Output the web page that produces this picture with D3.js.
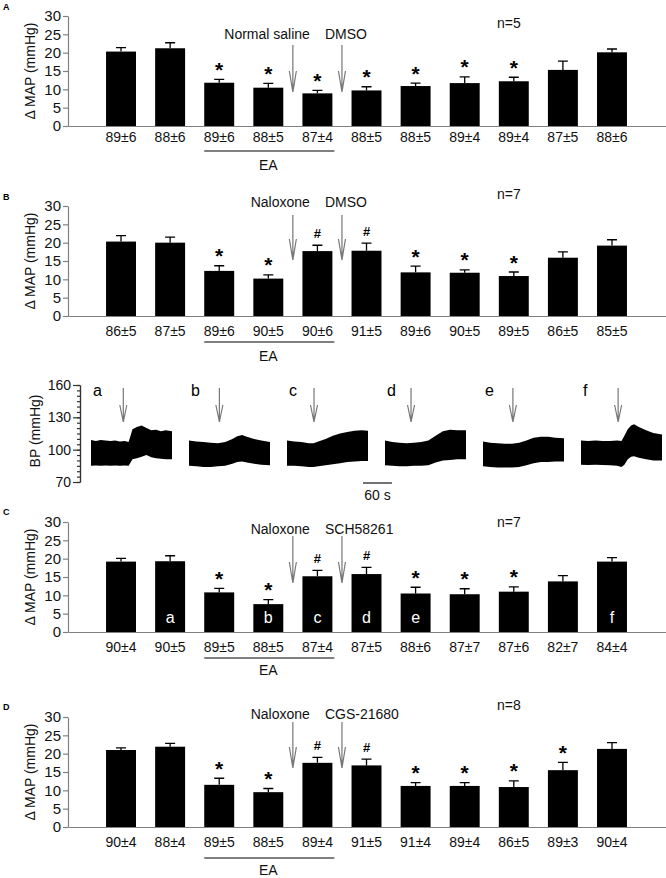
<!DOCTYPE html>
<html>
<head>
<meta charset="utf-8">
<script src="https://cdn.jsdelivr.net/npm/d3@7"></script>
<style>
  body { margin: 0; background: #fff; }
  svg { font-family: "Liberation Sans", Arial, sans-serif; display: block; }
  .axis path, .axis line { stroke: #808080; stroke-width: 1.2; }
  .axis text { fill: #111; font-size: 15px; }
  .bp-axis path, .bp-axis line { stroke: #333; stroke-width: 1.2; }
  .bp-axis text { fill: #111; font-size: 14px; }
  .lbl { fill: #111; font-size: 14px; }
</style>
</head>
<body>
<div id="chart"></div>
<script>
// ---- data ----
const labelsA = ['89±6', '88±6', '89±6', '88±5', '87±4', '88±5', '88±5', '89±4', '89±4', '87±5', '88±6']
const valuesA = [20.3, 21.2, 11.8, 10.45, 8.9, 9.7, 10.9, 11.7, 12.2, 15.3, 20.1]
const semA = [1.1, 1.5, 0.9, 1.15, 0.8, 1.0, 0.8, 1.7, 1.1, 2.4, 0.9]
const sigA = ['', '', '*', '*', '*', '*', '*', '*', '*', '', '']
const drugsA = ['Normal saline', 'DMSO']

const labelsB = ['86±5', '87±5', '89±6', '90±5', '90±6', '91±5', '89±6', '90±5', '89±5', '86±5', '85±5']
const valuesB = [20.3, 20.0, 12.3, 10.2, 17.7, 17.8, 11.9, 11.8, 10.9, 15.9, 19.2]
const semB = [1.6, 1.5, 1.4, 1.0, 1.6, 2.1, 1.7, 0.8, 1.1, 1.6, 1.6]
const sigB = ['', '', '*', '*', '#', '#', '*', '*', '*', '', '']
const drugsB = ['Naloxone', 'DMSO']

const labelsC = ['90±4', '90±5', '89±5', '88±5', '87±4', '87±5', '88±6', '87±7', '87±6', '82±7', '84±4']
const valuesC = [19.2, 19.3, 10.8, 7.6, 15.2, 15.8, 10.5, 10.3, 11.0, 13.8, 19.2]
const semC = [0.9, 1.5, 1.1, 1.25, 1.6, 1.8, 1.7, 1.5, 1.3, 1.6, 1.1]
const sigC = ['', '', '*', '*', '#', '#', '*', '*', '*', '', '']
const drugsC = ['Naloxone', 'SCH58261']
const inBarC = ['', 'a', '', 'b', 'c', 'd', 'e', '', '', '', 'f']

const labelsD = ['90±4', '88±4', '89±5', '88±5', '89±4', '91±5', '91±4', '89±4', '86±5', '89±3', '90±4']
const valuesD = [21.0, 21.9, 11.5, 9.5, 17.5, 16.8, 11.2, 11.2, 10.9, 15.5, 21.3]
const semD = [0.6, 0.9, 1.8, 1.0, 1.5, 1.7, 0.9, 0.9, 1.7, 2.1, 1.7]
const sigD = ['', '', '*', '*', '#', '#', '*', '*', '*', '*', '']
const drugsD = ['Naloxone', 'CGS-21680']

const panelLetters = ['A', 'B', 'C', 'D']
const nLabels = ['n=5', 'n=7', 'n=7', 'n=8']
const yTicks = [0, 5, 10, 15, 20, 25, 30]

// BP traces (upper / lower envelope, mmHg) vs time (s)
const traceNames = ['a', 'b', 'c', 'd', 'e', 'f']
const traceArrowTime = [67, 63, 56, 54, 62, 77]
const tTimeA = [0, 10, 20, 30, 40, 50, 60, 70, 78, 82, 86, 95, 105, 115, 125, 135, 145, 155, 168]
const tUpA = [109, 108, 109, 108.5, 108, 108.5, 107.5, 108, 107, 113, 119, 121, 122.5, 120, 118, 118.5, 117, 118, 117]
const tLoA = [85, 85.3, 85, 85.2, 85, 85.3, 85, 85.2, 85, 88, 91, 92, 93.5, 95, 93, 92, 91.5, 91, 91]
const tTimeB = [0, 15, 30, 45, 60, 75, 90, 100, 110, 120, 135, 150, 168]
const tUpB = [108.5, 107.5, 107, 106.5, 106, 107, 110, 112.5, 113.5, 112, 110, 108.5, 107]
const tLoB = [85, 84.5, 84, 84, 84.5, 85, 87, 88.5, 89, 88, 87, 86, 85.5]
const tTimeC = [0, 15, 30, 45, 55, 65, 80, 95, 110, 125, 140, 155, 168]
const tUpC = [108.5, 107.5, 107, 106, 106, 107.5, 110, 113, 115, 116.5, 117.5, 118, 117.5]
const tLoC = [85, 85, 84.5, 84, 84, 84.5, 85.5, 86.5, 87.5, 88.5, 89, 89.5, 89.5]
const tTimeD = [0, 15, 30, 45, 60, 75, 90, 105, 120, 135, 150, 168]
const tUpD = [108.5, 107, 106.5, 106, 106.5, 107, 108.5, 113, 117, 118.5, 118, 118]
const tLoD = [85.5, 85, 84.5, 84.5, 85, 85, 85.5, 88, 90, 90.5, 91, 91]
const tTimeE = [0, 15, 30, 45, 60, 75, 90, 105, 120, 135, 150, 168]
const tUpE = [107.5, 106.5, 106, 105.5, 105.5, 106.5, 108.5, 111, 112, 112, 111, 110.5]
const tLoE = [84.5, 84, 83.5, 83.5, 83.5, 84, 85.5, 87.5, 88.5, 88.5, 89, 89]
const tTimeF = [0, 15, 30, 45, 60, 75, 84, 90, 97, 104, 110, 120, 135, 150, 168]
const tUpF = [108.5, 108, 108.5, 108, 108, 108.5, 108, 113, 119, 122.5, 123.5, 121, 118, 115.5, 114]
const tLoF = [86, 85.8, 86, 85.8, 85.5, 85, 84, 86, 91, 93.5, 94, 92.5, 91, 90, 90]
const bpTicks = [70, 100, 130, 160]

// ---- layout ----
const W = 666, H = 878
const svg = d3.select('#chart').append('svg').attr('width', W).attr('height', H)

const panels = [
  { labels: labelsA, values: valuesA, sem: semA, sig: sigA, drugs: drugsA, inBar: null },
  { labels: labelsB, values: valuesB, sem: semB, sig: sigB, drugs: drugsB, inBar: null },
  { labels: labelsC, values: valuesC, sem: semC, sig: sigC, drugs: drugsC, inBar: inBarC },
  { labels: labelsD, values: valuesD, sem: semD, sig: sigD, drugs: drugsD, inBar: null },
]
const layout = [
  { top: 16, base: 126, letterY: 10, drugY: 39, arrowTop: 45, arrowTip: 92, nY: 28, labelY: 142, eaLine: 151, eaY: 170 },
  { top: 206, base: 316, letterY: 200, drugY: 207, arrowTop: 215, arrowTip: 260, nY: 199, labelY: 336, eaLine: 342, eaY: 361 },
  { top: 522, base: 632, letterY: 515, drugY: 534, arrowTop: 536, arrowTip: 583, nY: 527, labelY: 652, eaLine: 658, eaY: 675 },
  { top: 717, base: 827, letterY: 710, drugY: 719, arrowTop: 722, arrowTip: 768, nY: 710, labelY: 847, eaLine: 858, eaY: 875 },
]

const x = d3.scaleLinear().domain([-1.08, 11.1]).range([68, W])
const barW = x(0.61) - x(0)

function arrow(g, ax, y1, y2, head) {
  g.append('path')
    .attr('d', `M${ax},${y1}L${ax},${y2}M${ax - 3.5},${y2 - head}L${ax},${y2}L${ax + 3.5},${y2 - head}`)
    .attr('fill', 'none').attr('stroke', '#777').attr('stroke-width', 1.2)
}

panels.forEach((p, k) => {
  const L = layout[k]
  const g = svg.append('g')
  const y = d3.scaleLinear().domain([0, 30]).range([L.base, L.top])

  g.append('text').text(panelLetters[k]).attr('x', 3).attr('y', L.letterY)
    .attr('font-size', 9).attr('font-weight', 'bold')

  g.append('g').attr('class', 'axis').attr('transform', `translate(68,0)`)
    .call(d3.axisLeft(y).tickValues(yTicks).tickSize(5).tickSizeOuter(0).tickPadding(2))
  g.append('g').attr('class', 'axis').attr('transform', `translate(0,${L.base})`)
    .call(d3.axisBottom(x).tickValues([]).tickSizeOuter(0))

  g.append('text').attr('class', 'lbl').text('Δ MAP (mmHg)').attr('text-anchor', 'middle')
    .attr('transform', `translate(35,${(L.top + L.base) / 2}) rotate(-90)`)

  const idx = d3.range(p.values.length)
  g.selectAll('rect.bar').data(idx).join('rect').attr('class', 'bar')
    .attr('x', (i) => x(i) - barW / 2).attr('width', barW)
    .attr('y', (i) => y(p.values[i])).attr('height', (i) => y(0) - y(p.values[i]))
    .attr('fill', '#000')

  g.selectAll('path.err').data(idx).join('path').attr('class', 'err')
    .attr('d', (i) => {
      const cx = x(i), t = y(p.values[i] + p.sem[i])
      return `M${cx},${y(p.values[i])}V${t}M${cx - 5},${t}H${cx + 5}`
    })
    .attr('stroke', '#000').attr('stroke-width', 1.3).attr('fill', 'none')

  g.selectAll('text.sig').data(idx.filter((i) => p.sig[i])).join('text').attr('class', 'sig')
    .text((i) => p.sig[i]).attr('text-anchor', 'middle')
    .attr('x', (i) => x(i))
    .attr('y', (i) => y(p.values[i] + p.sem[i]) - (p.sig[i] === '#' ? 7 : 2.5))
    .attr('font-size', (i) => (p.sig[i] === '#' ? 13 : 21)).attr('font-weight', 'bold')

  g.selectAll('text.xl').data(idx).join('text').attr('class', 'xl lbl')
    .text((i) => p.labels[i]).attr('text-anchor', 'middle')
    .attr('x', (i) => x(i)).attr('y', L.labelY).attr('font-size', 13.5)

  if (p.inBar) {
    g.selectAll('text.inbar').data(idx.filter((i) => p.inBar[i])).join('text').attr('class', 'inbar')
      .text((i) => p.inBar[i]).attr('text-anchor', 'middle')
      .attr('x', (i) => x(i)).attr('y', L.base - 9)
      .attr('fill', '#fff').attr('font-size', 16)
  }

  // EA bracket under bars 3-5
  g.append('line').attr('x1', x(2) - barW / 2).attr('x2', x(4) + barW / 2 + 2)
    .attr('y1', L.eaLine).attr('y2', L.eaLine).attr('stroke', '#000').attr('stroke-width', 1)
  g.append('text').attr('class', 'lbl').text('EA').attr('text-anchor', 'middle')
    .attr('x', x(3)).attr('y', L.eaY)

  // drug arrows
  arrow(g, x(3.5), L.arrowTop, L.arrowTip, 21)
  arrow(g, x(4.5), L.arrowTop, L.arrowTip, 21)
  g.append('text').attr('class', 'lbl').text(p.drugs[0]).attr('text-anchor', 'end')
    .attr('x', x(3.5) + 17).attr('y', L.drugY)
  g.append('text').attr('class', 'lbl').text(p.drugs[1]).attr('text-anchor', 'start')
    .attr('x', x(4.5) - 17).attr('y', L.drugY)

  g.append('text').attr('class', 'lbl').text(nLabels[k]).attr('text-anchor', 'middle')
    .attr('x', x(7.9)).attr('y', L.nY)
})

// ---- BP traces ----
const traces = [
  [tTimeA, tUpA, tLoA], [tTimeB, tUpB, tLoB], [tTimeC, tUpC, tLoC],
  [tTimeD, tUpD, tLoD], [tTimeE, tUpE, tLoE], [tTimeF, tUpF, tLoF],
].map(([t, hi, lo]) => t.map((tt, i) => ({ t: tt, hi: hi[i], lo: lo[i] })))

const bp = svg.append('g')
const yBP = d3.scaleLinear().domain([70, 160]).range([482, 385])
const traceStart = d3.scaleLinear().domain([0, 5]).range([91, 581])

bp.append('g').attr('class', 'bp-axis').attr('transform', 'translate(80,0)')
  .call(d3.axisLeft(yBP).tickValues(d3.range(70, 161, 5)).tickSize(3).tickSizeOuter(0).tickFormat(''))
bp.append('g').attr('class', 'bp-axis').attr('transform', 'translate(80,0)')
  .call(d3.axisLeft(yBP).tickValues(bpTicks).tickSize(7).tickSizeOuter(0).tickPadding(2))
bp.append('text').attr('class', 'lbl').text('BP (mmHg)').attr('text-anchor', 'middle')
  .attr('font-size', 15).attr('transform', `translate(40,431) rotate(-90)`)

traces.forEach((tr, i) => {
  const tx = d3.scaleLinear().domain([0, 168]).range([traceStart(i), traceStart(i) + 81])
  const area = d3.area().x((d) => tx(d.t)).y0((d) => yBP(d.lo)).y1((d) => yBP(d.hi))
  bp.append('path').datum(tr).attr('d', area).attr('fill', '#000')
  bp.append('text').text(traceNames[i]).attr('x', tx(0) + 2).attr('y', 396).attr('font-size', 16)
  arrow(bp, tx(traceArrowTime[i]), 388, 422, 17)
})

// 60 s scale bar
const sx = d3.scaleLinear().domain([0, 168]).range([363, 444])
bp.append('line').attr('x1', sx(0)).attr('x2', sx(60)).attr('y1', 483).attr('y2', 483)
  .attr('stroke', '#444').attr('stroke-width', 1.5)
bp.append('text').attr('class', 'lbl').text('60 s').attr('text-anchor', 'middle')
  .attr('x', sx(30)).attr('y', 500).attr('font-size', 13.5)
</script>
</body>
</html>
